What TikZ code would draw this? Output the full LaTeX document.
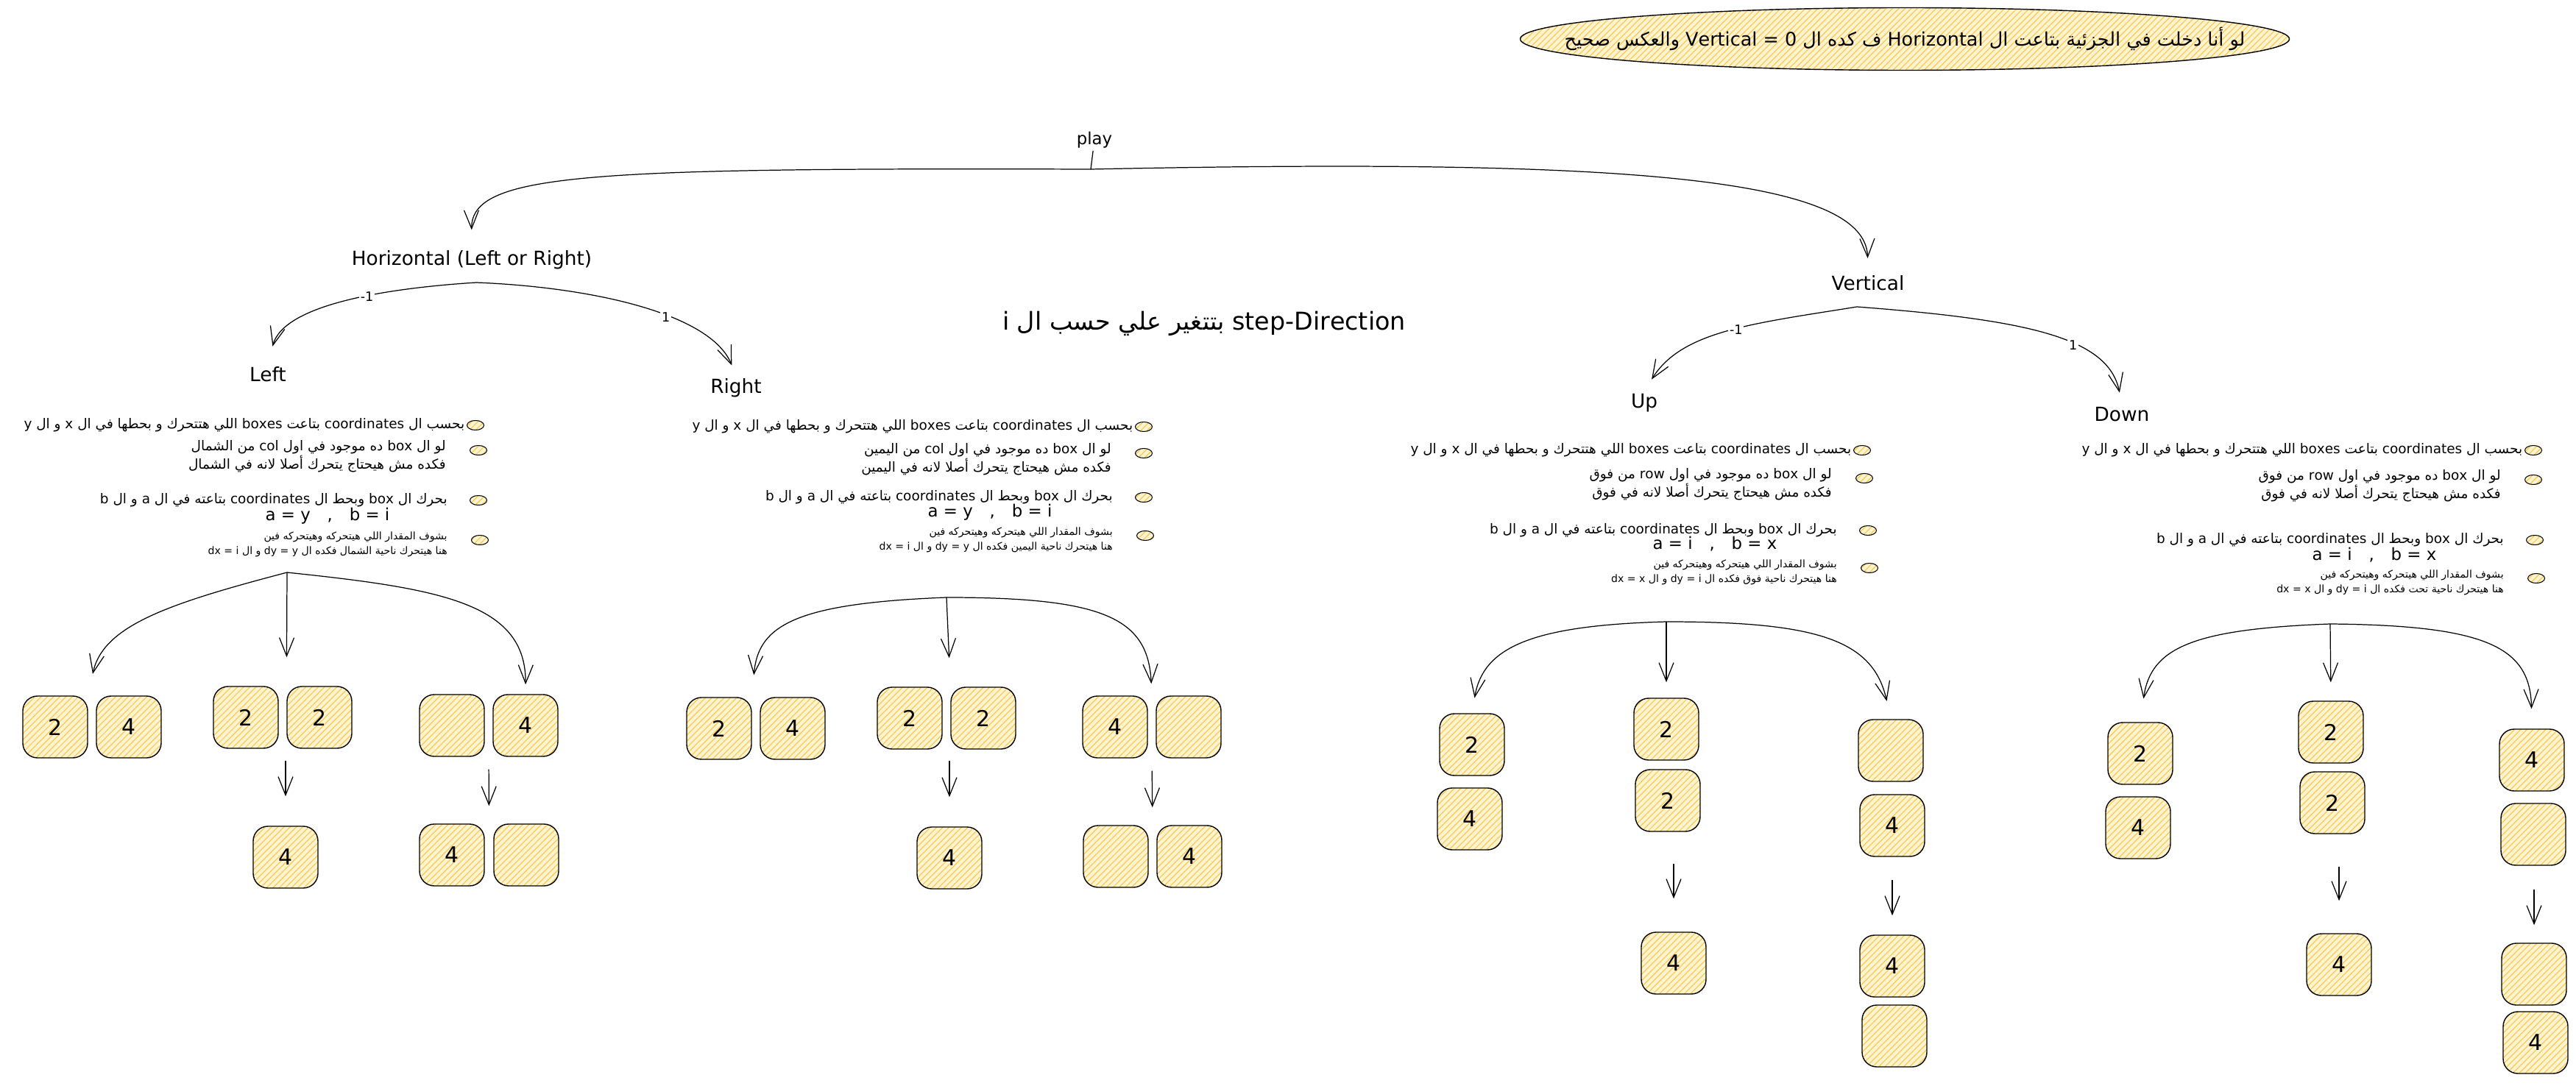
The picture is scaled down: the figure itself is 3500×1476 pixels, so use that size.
\documentclass[tikz,border=0pt]{standalone}
\usepackage{fontspec}
\setmainfont{DejaVu Sans}
\newfontfamily\arabicfont[Script=Arabic]{DejaVu Sans}
\TeXXeTstate=1
\usetikzlibrary{arrows.meta,shapes.geometric,patterns.meta,calc,positioning}
\definecolor{tilefill}{RGB}{255,243,208}
\definecolor{tilehatch}{RGB}{250,196,70}
\newcommand\artxt[1]{{\arabicfont\beginR #1\endR}}
\tikzset{
	hatch/.style={preaction={fill=tilefill},pattern={Lines[angle=45,distance=3.4pt,line width=0.6pt]},pattern color=tilehatch},
	tile/.style={hatch,draw,line width=0.8pt,rounded corners=4mm,minimum width=17.6mm,minimum height=16.8mm,inner sep=0pt,font=\fontsize{17}{17}\selectfont},
	bulletmark/.style={hatch,ellipse,draw,line width=0.6pt,minimum width=4.6mm,minimum height=2.6mm,inner sep=0pt},
	lbl/.style={font=\fontsize{15}{15}\selectfont,inner sep=2pt},
	sign/.style={fill=white,inner sep=1pt,font=\fontsize{10}{10}\selectfont},
	note/.style={font=\fontsize{10.5}{14.5}\selectfont,inner sep=0pt,align=right},
	small/.style={font=\fontsize{8}{11}\selectfont,inner sep=0pt,align=right},
	eqn/.style={font=\fontsize{13}{13}\selectfont,inner sep=0pt},
	arr/.style={draw,line width=0.7pt,-{Straight Barb[length=5mm,width=4mm]}}
}
\begin{document}
\begin{tikzpicture}[x=0.2mm,y=-0.2mm]
		\useasboundingbox (0,0) rectangle (3500,1476);
		\node[hatch,ellipse,draw,line width=0.8pt,minimum width=209mm,minimum height=17mm,inner sep=0pt,font=\fontsize{14.5}{14.5}\selectfont] (Note) at (2588,53) {\makebox[0pt]{\artxt{لو أنا دخلت في الجزئية بتاعت ال Horizontal ف كده ال \beginL Vertical = 0\endL{} والعكس صحيح}}};

		\node[lbl,font=\fontsize{13}{13}\selectfont] (Play) at (1487,190) {play};
		\node[lbl] (Hor) at (641,353) {Horizontal (Left or Right)};
		\node[lbl] (Ver) at (2538,385) {Vertical};
		\node[lbl] (Lft) at (364,509) {Left};
		\node[lbl] (Rgt) at (1000,527) {Right};
		\node[lbl] (Upw) at (2234,548) {Up};
		\node[lbl] (Dwn) at (2883,563) {Down};
		\node[font=\fontsize{19}{19}\selectfont] (Step) at (1636,440) {\artxt{step-Direction بتتغير علي حسب ال i}};

		\coordinate (jP) at (1482,230);
		\coordinate (jH) at (647,384);
		\coordinate (jV) at (2523,417);
		\draw[line width=0.7pt] (Play) -- (jP);
		\draw[arr,shorten >=4.8mm] (jP) .. controls (800,228) and (640,235) .. (Hor.north);
		\draw[arr,shorten >=4mm] (jP) .. controls (2200,215) and (2535,240) .. (Ver.north);
		\draw[arr,shorten >=5mm] (jH) .. controls (520,392) and (385,415) .. (Lft.north) node[sign,pos=0.4] {-1};
		\draw[arr,shorten >=3mm] (jH) .. controls (800,390) and (965,425) .. (Rgt.north) node[sign,pos=0.6] {1};
		\draw[arr,shorten >=3.8mm] (jV) .. controls (2380,440) and (2285,450) .. (Upw.north) node[sign,pos=0.45] {-1};
		\draw[arr,shorten >=3.2mm] (jV) .. controls (2760,435) and (2865,460) .. (Dwn.north) node[sign,pos=0.6] {1};

		\node[bulletmark] (bL1) at (646,578) {};
		\node[bulletmark] (bL2) at (650,612) {};
		\node[bulletmark] (bL3) at (650,680) {};
		\node[bulletmark] (bL4) at (652,734) {};
		\node[note,left=0.5mm of bL1] (tL1) {\artxt{بحسب ال coordinates بتاعت boxes اللي هتتحرك و بحطها في ال x و ال y}};
		\node[note,left=6.4mm of bL2,yshift=-1.6mm] (tL2) {\artxt{لو ال box ده موجود في اول col من الشمال}\\\artxt{فكده مش هيحتاج يتحرك أصلا لانه في الشمال}};
		\node[note,left=6mm of bL3] (tL3) {\artxt{بحرك ال box وبحط ال coordinates بتاعته في ال a و ال b}};
		\node[eqn] (eL) at (445,701) {a = y\quad ,\quad b = i};
		\node[small,left=6.4mm of bL4,yshift=-1.2mm] (tL4) {\artxt{بشوف المقدار اللي هيتحركه وهيتحركه فين}\\\artxt{هنا هيتحرك ناحية الشمال فكده ال \beginL dy = y\endL{} و ال \beginL dx = i\endL{}}};

		\node[bulletmark] (bR1) at (1554,580) {};
		\node[bulletmark] (bR2) at (1554,616) {};
		\node[bulletmark] (bR3) at (1554,676) {};
		\node[bulletmark] (bR4) at (1556,728) {};
		\node[note,left=0.5mm of bR1] (tR1) {\artxt{بحسب ال coordinates بتاعت boxes اللي هتتحرك و بحطها في ال x و ال y}};
		\node[note,left=6.4mm of bR2,yshift=-1.6mm] (tR2) {\artxt{لو ال box ده موجود في اول col من اليمين}\\\artxt{فكده مش هيحتاج يتحرك أصلا لانه في اليمين}};
		\node[note,left=6mm of bR3] (tR3) {\artxt{بحرك ال box وبحط ال coordinates بتاعته في ال a و ال b}};
		\node[eqn] (eR) at (1345,696) {a = y\quad ,\quad b = i};
		\node[small,left=6.4mm of bR4,yshift=-1.2mm] (tR4) {\artxt{بشوف المقدار اللي هيتحركه وهيتحركه فين}\\\artxt{هنا هيتحرك ناحية اليمين فكده ال \beginL dy = y\endL{} و ال \beginL dx = i\endL{}}};

		\node[bulletmark] (bU1) at (2530,612) {};
		\node[bulletmark] (bU2) at (2533,650) {};
		\node[bulletmark] (bU3) at (2538,721) {};
		\node[bulletmark] (bU4) at (2540,772) {};
		\node[note,left=0.5mm of bU1] (tU1) {\artxt{بحسب ال coordinates بتاعت boxes اللي هتتحرك و بحطها في ال x و ال y}};
		\node[note,left=6.4mm of bU2,yshift=-1.6mm] (tU2) {\artxt{لو ال box ده موجود في اول row من فوق}\\\artxt{فكده مش هيحتاج يتحرك أصلا لانه في فوق}};
		\node[note,left=6mm of bU3] (tU3) {\artxt{بحرك ال box وبحط ال coordinates بتاعته في ال a و ال b}};
		\node[eqn] (eU) at (2330,739) {a = i\quad ,\quad b = x};
		\node[small,left=6.4mm of bU4,yshift=-1.2mm] (tU4) {\artxt{بشوف المقدار اللي هيتحركه وهيتحركه فين}\\\artxt{هنا هيتحرك ناحية فوق فكده ال \beginL dy = i\endL{} و ال \beginL dx = x\endL{}}};

		\node[bulletmark] (bD1) at (3442,612) {};
		\node[bulletmark] (bD2) at (3442,652) {};
		\node[bulletmark] (bD3) at (3444,734) {};
		\node[bulletmark] (bD4) at (3446,786) {};
		\node[note,left=0.5mm of bD1] (tD1) {\artxt{بحسب ال coordinates بتاعت boxes اللي هتتحرك و بحطها في ال x و ال y}};
		\node[note,left=6.4mm of bD2,yshift=-1.6mm] (tD2) {\artxt{لو ال box ده موجود في اول row من فوق}\\\artxt{فكده مش هيحتاج يتحرك أصلا لانه في فوق}};
		\node[note,left=6mm of bD3] (tD3) {\artxt{بحرك ال box وبحط ال coordinates بتاعته في ال a و ال b}};
		\node[eqn] (eD) at (3226,754) {a = i\quad ,\quad b = x};
		\node[small,left=6.4mm of bD4,yshift=-1.2mm] (tD4) {\artxt{بشوف المقدار اللي هيتحركه وهيتحركه فين}\\\artxt{هنا هيتحرك ناحية تحت فكده ال \beginL dy = i\endL{} و ال \beginL dx = x\endL{}}};

		\foreach \n/\x/\y/\v in {A1/75/988/2,A2/175/988/4,B1/334/975/2,B2/434/975/2,B3/388/1165/4,C1/614/986/{},C2/714/986/4,C4/614/1162/4,C5/715/1162/{},
			D1/977/990/2,D2/1077/990/4,E1/1236/976/2,E2/1336/976/2,E3/1290/1166/4,F1/1515/988/4,F2/1615/988/{},F3/1516/1164/{},F4/1616/1164/4,
			G1/2000/1012/2,G2/1997/1113/4,H1/2264/991/2,H2/2266/1088/2,H3/2274/1309/4,I1/2569/1020/{},I2/2571/1122/4,I3/2571/1313/4,I4/2574/1408/{},
			J1/2908/1024/2,J2/2905/1125/4,K1/3167/995/2,K2/3169/1091/2,K3/3178/1311/4,L1/3440/1033/4,L2/3442/1134/{},L3/3443/1324/{},L4/3445/1417/4}
		\node[tile] (\n) at (\x,\y) {\v};

		\coordinate (oL) at (390,778);
		\draw[arr,shorten >=6mm] (oL) .. controls (230,820) and (140,850) .. (A1.north east);
		\draw[arr,shorten >=7.8mm] (oL) -- (B2.north west);
		\draw[arr,shorten >=2.6mm] (oL) .. controls (600,800) and (715,820) .. (C2.north);
		\draw[arr,shorten <=3.2mm,shorten >=8mm] (B3.north |- B1.south) -- (B3.north);
		\draw[arr,shorten <=3.4mm,shorten >=4.8mm] ($(C1.south east)!.5!(C2.south west)$) -- ($(C4.north east)!.5!(C5.north west)$);

		\coordinate (oR) at (1286,812);
		\draw[arr,shorten >=6mm] (oR) .. controls (1080,820) and (1030,850) .. (D1.north east);
		\draw[arr,shorten >=7.8mm] (oR) -- (E2.north west);
		\draw[arr,shorten >=3.2mm] (oR) .. controls (1500,812) and (1560,840) .. ($(F1.north east)!.5!(F2.north west)$);
		\draw[arr,shorten <=3mm,shorten >=8mm] (E3.north |- E1.south) -- (E3.north);
		\draw[arr,shorten <=3.4mm,shorten >=4.8mm] ($(F1.south east)!.5!(F2.south west)$) -- ($(F3.north east)!.5!(F4.north west)$);

		\coordinate (oU) at (2264,845);
		\draw[arr,shorten >=4.2mm] (oU) .. controls (2080,850) and (2015,880) .. (G1.north);
		\draw[arr,shorten >=4.2mm] (oU) -- (H1.north);
		\draw[arr,shorten >=5mm] (oU) .. controls (2470,845) and (2545,870) .. (I1.north);
		\draw[arr,shorten <=8.6mm,shorten >=9mm] (H3.north |- H2.south) -- (H3.north);
		\draw[arr,shorten <=6.2mm,shorten >=5.2mm] (I3.north |- I2.south) -- (I3.north);

		\coordinate (oD) at (3166,848);
		\draw[arr,shorten >=6.4mm] (oD) .. controls (2980,855) and (2922,880) .. (J1.north);
		\draw[arr,shorten >=5mm] (oD) -- (K1.north);
		\draw[arr,shorten >=5.4mm] (oD) .. controls (3380,850) and (3438,880) .. (L1.north);
		\draw[arr,shorten <=8.8mm,shorten >=8.8mm] (K3.north |- K2.south) -- (K3.north);
		\draw[arr,shorten <=6.4mm,shorten >=4.8mm] (L3.north |- L2.south) -- (L3.north);
\end{tikzpicture}
\end{document}
